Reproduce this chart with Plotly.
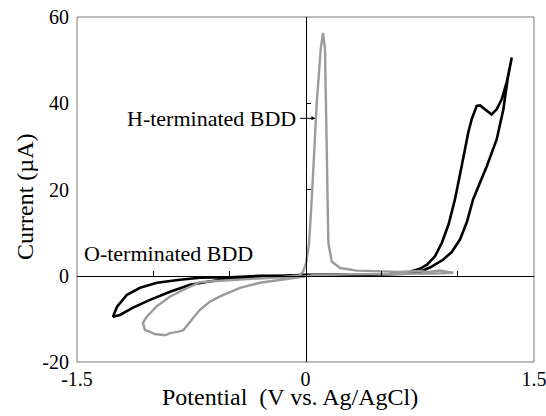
import plotly.graph_objects as go

# O-terminated BDD (black) cyclic voltammogram
o_potential = [0.0, 0.2, 0.4, 0.55, 0.62, 0.686, 0.75, 0.798, 0.85, 0.896, 0.94, 0.981, 1.025, 1.069, 1.091,
               1.124, 1.146, 1.17, 1.19, 1.222, 1.255, 1.288, 1.321, 1.354,
               1.327, 1.299, 1.255, 1.19, 1.134, 1.10, 1.06, 1.014, 0.96, 0.903, 0.817, 0.752, 0.666, 0.5, 0.3, 0.0,
               -0.299, -0.496, -0.693, -0.824, -0.975, -1.086, -1.172, -1.237, -1.264,
               -1.218, -1.132, -1.021, -0.889, -0.758, -0.561, -0.299, 0.0]
o_current = [0.2, 0.25, 0.3, 0.4, 0.6, 0.93, 1.6, 2.56, 4.5, 7.7, 12.0, 17.7, 25.4, 33.3, 36.3,
             39.4, 39.5, 38.8, 38.2, 37.4, 38.6, 40.9, 44.9, 50.6,
             45.6, 38.6, 31.6, 25.4, 20.8, 17.7, 12.5, 8.4, 5.5, 3.7, 1.9, 0.93, 0.47, 0.25, 0.15, 0.05,
             0.0, -0.35, -0.47, -0.93, -1.63, -2.8, -4.4, -7.2, -9.5,
             -9.1, -7.4, -5.6, -3.7, -2.1, -0.93, -0.23, 0.2]

# H-terminated BDD (gray) cyclic voltammogram
h_potential = [-0.036, -0.016, 0.004, 0.023, 0.041, 0.056, 0.074, 0.100, 0.115, 0.128, 0.133, 0.143, 0.150,
               0.172, 0.227, 0.336, 0.489, 0.62, 0.75, 0.80, 0.88, 0.95, 0.97,
               0.85, 0.62, 0.29, 0.05,
               -0.167, -0.299, -0.43, -0.561, -0.627, -0.693, -0.747, -0.802, -0.84, -0.889, -0.92, -0.955,
               -0.99, -1.021, -1.054, -1.067,
               -1.042, -0.977, -0.889, -0.78, -0.693, -0.561, -0.43, -0.299, -0.167, -0.036]
h_current = [0.1, 0.93, 3.0, 7.2, 17.7, 29.3, 40.2, 52.6, 56.3, 52.6, 40.2, 17.7, 7.7,
             3.3, 1.8, 1.2, 1.0, 0.9, 1.1, 0.8, 1.2, 0.9, 0.7,
             0.5, 0.45, 0.35, 0.1,
             -0.93, -1.63, -2.8, -4.8, -6.0, -7.9, -10.2, -12.6, -13.0, -13.3, -13.8, -13.7,
             -13.5, -13.0, -12.6, -10.9,
             -9.5, -7.1, -4.8, -2.9, -1.5, -1.16, -0.93, -0.7, -0.35, 0.1]

x_tick_vals = [-1.5, 0, 1.5]
x_tick_text = ["-1.5", "0", "1.5"]
y_tick_vals = [-20, 0, 20, 40, 60]
y_tick_text = ["-20", "0", "20", "40", "60"]
x_minor_ticks = [-1.0, -0.5, 0.5, 1.0]
y_minor_ticks = [20, 40]

FONT = "Liberation Serif, Times New Roman, serif"
XR = [-1.5, 1.5]
YR = [-20, 60]

fig = go.Figure()
fig.add_trace(go.Scatter(x=o_potential, y=o_current, mode="lines",
                         line=dict(color="#000000", width=2.6), name="O-terminated BDD",
                         xaxis="x", yaxis="y"))
fig.add_trace(go.Scatter(x=h_potential, y=h_current, mode="lines",
                         line=dict(color="#9b9b9b", width=2.4), name="H-terminated BDD",
                         xaxis="x2", yaxis="y2"))

fig.update_layout(
    width=546, height=416,
    margin=dict(l=77, r=12, t=17, b=54),
    paper_bgcolor="white", plot_bgcolor="white",
    showlegend=False,
    font=dict(family=FONT, color="black"),
    xaxis=dict(range=XR, tickvals=x_tick_vals, ticktext=x_tick_text, ticks="",
               showgrid=False, zeroline=False, showline=False, automargin=False,
               tickfont=dict(size=20), ticklabelstandoff=3, ticklabeloverflow="allow"),
    yaxis=dict(range=YR, tickvals=y_tick_vals, ticktext=y_tick_text, ticks="",
               showgrid=False, zeroline=False, showline=False, automargin=False,
               tickfont=dict(size=20), ticklabelstandoff=7, ticklabeloverflow="allow"),
    xaxis2=dict(range=XR, overlaying="x", anchor="free", position=0.25, side="top", automargin=False,
                tickvals=x_minor_ticks, ticks="outside", ticklen=5, tickcolor="black",
                showticklabels=False, showgrid=False, zeroline=False,
                showline=True, linecolor="black", linewidth=1),
    yaxis2=dict(range=YR, overlaying="y", anchor="free", position=0.5, side="right", automargin=False,
                tickvals=y_minor_ticks, ticks="outside", ticklen=4, tickcolor="black",
                showticklabels=False, showgrid=False, zeroline=False,
                showline=True, linecolor="black", linewidth=1),
)

# plot frame
fig.add_shape(type="rect", xref="paper", yref="paper", x0=0, x1=1, y0=0, y1=1,
              line=dict(color="#7a7a7a", width=1), fillcolor="rgba(0,0,0,0)", layer="below")

# axis titles
fig.add_annotation(x=0.466, y=-0.1, xref="paper", yref="paper", text="Potential\u00a0 (V vs. Ag/AgCl)",
                   showarrow=False, xanchor="center", yanchor="middle", font=dict(size=24))
fig.add_annotation(x=-0.114, y=0.478, xref="paper", yref="paper", text="Current (\u00b5A)", textangle=-90,
                   showarrow=False, xanchor="center", yanchor="middle", font=dict(size=24))

fig.add_annotation(x=-0.05, y=36.5, xref="x", yref="y", text="H-terminated BDD",
                   showarrow=False, xanchor="right", yanchor="middle", font=dict(size=22))
fig.add_annotation(x=0.065, y=36.5, ax=-0.045, ay=36.5, xref="x", yref="y", axref="x", ayref="y",
                   text="", showarrow=True, arrowhead=2, arrowsize=0.8, arrowwidth=1, arrowcolor="black")
fig.add_annotation(x=-0.9, y=5.2, xref="x", yref="y", text="O-terminated BDD",
                   showarrow=False, xanchor="center", yanchor="middle", font=dict(size=22))

fig.write_html("out.html", config={"displayModeBar": False},
               post_script="document.body.style.margin='0';")
